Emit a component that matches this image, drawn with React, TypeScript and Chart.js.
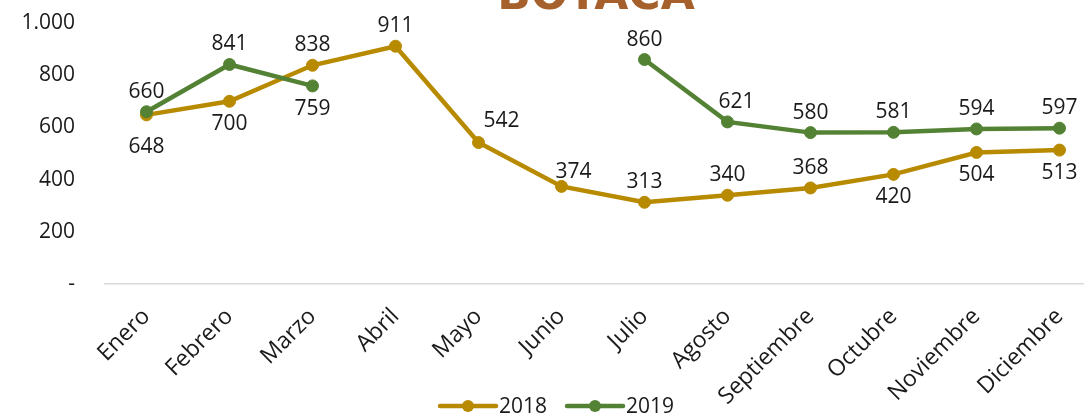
import { useEffect, useRef } from 'react';
import { Chart, registerables } from 'chart.js';

Chart.register(...registerables);

const TITLE = 'BOYACÁ';
const MONTHS = ['Enero', 'Febrero', 'Marzo', 'Abril', 'Mayo', 'Junio', 'Julio', 'Agosto', 'Septiembre', 'Octubre', 'Noviembre', 'Diciembre'];
const LABEL_2018 = '2018';
const LABEL_2019 = '2019';
const VALUES_2018 = [648, 700, 838, 911, 542, 374, 313, 340, 368, 420, 504, 513];
const VALUES_2019: (number | null)[] = [660, 841, 759, null, null, null, 860, 621, 580, 581, 594, 597];
const Y_TICKS = [0, 200, 400, 600, 800, 1000];
// label placement: a = above, b = below, bb = further below, ar = above-right
const PLACE_2018 = ['bb', 'b', 'a', 'a', 'ar', 'ar2', 'a', 'a', 'a', 'b', 'b', 'b'];
const PLACE_2019 = ['a', 'a', 'b', '', '', '', 'a', 'ar3', 'a', 'a', 'a', 'a'];

const COLOR_2018 = '#B88A00';
const COLOR_2019 = '#548235';
const FONT = '"Open Sans", "DejaVu Sans", sans-serif';
const CANVAS_W = 1108;

const fmt = (v: number) => (v === 0 ? '-' : v >= 1000 ? Math.floor(v / 1000) + '.' + String(v % 1000).padStart(3, '0') : String(v));

const OFFSETS: Record<string, [number, number]> = {
  a: [0, -20],
  b: [0, 23],
  bb: [0, 32],
  ar: [23, -22],
  ar2: [12, -14],
  ar3: [9, -20],
};

const labelPlugin = {
  id: 'valueLabels',
  afterDatasetsDraw(chart: any) {
    const ctx = chart.ctx;
    const places = [PLACE_2018, PLACE_2019];
    ctx.save();
    ctx.font = `21px ${FONT}`;
    ctx.fillStyle = '#1a1a1a';
    ctx.textAlign = 'center';
    ctx.textBaseline = 'middle';
    chart.data.datasets.forEach((ds: any, di: number) => {
      const meta = chart.getDatasetMeta(di);
      meta.data.forEach((pt: any, i: number) => {
        const v = ds.data[i];
        if (v === null || v === undefined) return;
        const off = OFFSETS[places[di][i]] || [0, -20];
        ctx.fillText(fmt(v), pt.x + off[0], pt.y + off[1]);
      });
    });
    ctx.restore();
  },
};

const titlePlugin = {
  id: 'cutTitle',
  beforeDraw(chart: any) {
    const ctx = chart.ctx;
    ctx.save();
    ctx.fillStyle = '#FFFFFF';
    ctx.fillRect(0, 0, chart.width, chart.height);
    ctx.font = `bold 44px "DejaVu Sans", sans-serif`;
    ctx.fillStyle = '#A5602B';
    ctx.textAlign = 'center';
    ctx.textBaseline = 'alphabetic';
    ctx.fillText(TITLE, 596, 9);
    ctx.restore();
  },
};

const legendPlugin = {
  id: 'lineLegend',
  afterDraw(chart: any) {
    const ctx = chart.ctx;
    ctx.save();
    ctx.font = `21px ${FONT}`;
    ctx.textBaseline = 'middle';
    ctx.textAlign = 'left';
    const y = 406;
    let x = 440;
    chart.data.datasets.forEach((ds: any) => {
      ctx.strokeStyle = ds.borderColor;
      ctx.lineWidth = 4.5;
      ctx.lineCap = 'round';
      ctx.beginPath();
      ctx.moveTo(x, y);
      ctx.lineTo(x + 56, y);
      ctx.stroke();
      ctx.fillStyle = ds.borderColor;
      ctx.beginPath();
      ctx.arc(x + 28, y, 6, 0, Math.PI * 2);
      ctx.fill();
      ctx.fillStyle = '#1a1a1a';
      ctx.fillText(ds.label, x + 59, y + 1);
      x += 59 + ctx.measureText(ds.label).width + 20;
    });
    ctx.restore();
  },
};

export default function App() {
  const ref = useRef<HTMLCanvasElement | null>(null);

  useEffect(() => {
    document.body.style.margin = '0';
    if (!ref.current) return;
    const chart = new Chart(ref.current, {
      type: 'line',
      data: {
        labels: MONTHS,
        datasets: [
          {
            label: LABEL_2018,
            data: VALUES_2018,
            borderColor: COLOR_2018,
            backgroundColor: COLOR_2018,
            pointBackgroundColor: COLOR_2018,
            pointBorderColor: COLOR_2018,
            borderWidth: 4.5,
            pointRadius: 6,
            pointBorderWidth: 1,
            tension: 0,
            order: 1,
          },
          {
            label: LABEL_2019,
            data: VALUES_2019,
            borderColor: COLOR_2019,
            backgroundColor: COLOR_2019,
            pointBackgroundColor: COLOR_2019,
            pointBorderColor: COLOR_2019,
            borderWidth: 4.5,
            pointRadius: 6,
            pointBorderWidth: 1,
            tension: 0,
            spanGaps: false,
            order: 0,
          },
        ],
      },
      options: {
        responsive: false,
        animation: false,
        layout: { padding: { top: 23, right: 1, left: 0, bottom: 0 } },
        plugins: {
          legend: { display: false },
          tooltip: { enabled: false },
          title: { display: false },
        },
        scales: {
          x: {
            offset: true,
            grid: { display: false, drawTicks: false },
            border: { display: true, color: '#D9D9D9', width: 1.5 },
            ticks: {
              autoSkip: false,
              minRotation: 45,
              maxRotation: 45,
              padding: 19,
              color: '#1a1a1a',
              font: { family: FONT, size: 23 },
            },
            afterFit: (s: any) => {
              s.height = 133;
              s.paddingLeft = 0;
              s.paddingRight = 0;
            },
          },
          y: {
            min: Y_TICKS[0],
            max: Y_TICKS[Y_TICKS.length - 1],
            afterBuildTicks: (s: any) => {
              s.ticks = Y_TICKS.map((v) => ({ value: v }));
            },
            grid: { display: false, drawTicks: false, tickLength: 0 },
            border: { display: false },
            ticks: {
              padding: 30,
              color: '#1a1a1a',
              font: { family: FONT, size: 21 },
              callback: (v: any) => fmt(Number(v)),
            },
            afterFit: (s: any) => {
              s.width = 105;
              s.paddingTop = 0;
              s.paddingBottom = 0;
            },
          },
        },
      },
      plugins: [titlePlugin, labelPlugin, legendPlugin],
    });
    return () => chart.destroy();
  }, []);

  return (
    <div style={{ width: 1084, height: 417, overflow: 'hidden', position: 'relative' }}>
      <canvas ref={ref} width={CANVAS_W} height={417} style={{ display: 'block', width: CANVAS_W, height: 417 }} />
    </div>
  );
}
